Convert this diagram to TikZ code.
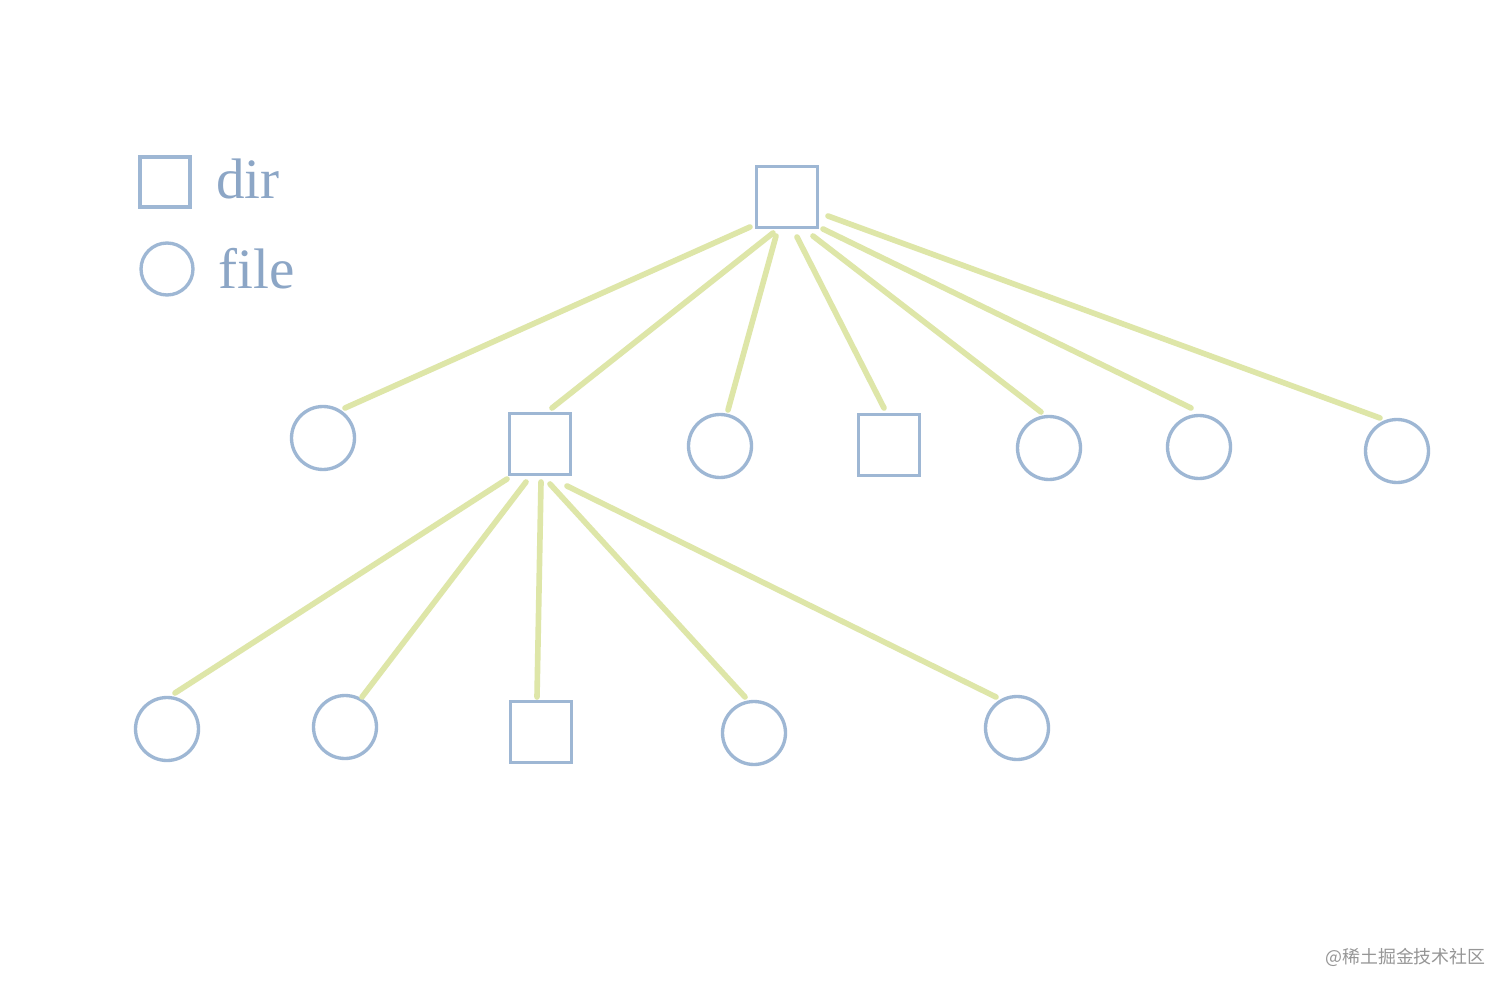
\documentclass[tikz,border=0pt]{standalone}
\usepackage{fontspec}
\setmainfont{Liberation Serif}
\newfontfamily\cjk{Noto Sans CJK SC}
\definecolor{nodeblue}{RGB}{158,183,212}
\definecolor{textblue}{RGB}{140,166,198}
\definecolor{edgegreen}{RGB}{222,230,168}
\definecolor{wmgray}{RGB}{150,150,150}
\begin{document}
\begin{tikzpicture}[x=0.02cm,y=-0.02cm,
  dirbox/.style={draw=nodeblue,line width=1.9pt,minimum size=1.22cm,inner sep=0pt,fill=white},
  filecirc/.style={draw=nodeblue,line width=1.9pt,circle,minimum size=1.26cm,inner sep=0pt,fill=white},
  edge/.style={draw=edgegreen,line width=3.2pt,line cap=round},
  legtext/.style={text=textblue,font=\fontsize{32.5}{33}\selectfont,anchor=base west,inner sep=0pt}]
\useasboundingbox[fill=white] (0,0) rectangle (1512,993);
% legend
\node[dirbox,minimum size=1.0cm] (legdir) at (165,182) {};
\node[legtext] (legdirt) at (216,199) {dir};
\node[filecirc,minimum size=1.04cm] (legfile) at (167,269) {};
\node[legtext] (legfilet) at (218,289) {file};
% tree nodes
\node[dirbox] (root) at (787,197) {};
\node[filecirc] (c1) at (323,438) {};
\node[dirbox] (d1) at (540,444) {};
\node[filecirc] (c2) at (720,446) {};
\node[dirbox] (d2) at (889,445) {};
\node[filecirc] (c3) at (1049,448) {};
\node[filecirc] (c4) at (1199,447) {};
\node[filecirc] (c5) at (1397,451) {};
\node[filecirc] (c6) at (167,729) {};
\node[filecirc] (c7) at (345,727) {};
\node[dirbox] (d3) at (541,732) {};
\node[filecirc] (c8) at (754,733) {};
\node[filecirc] (c9) at (1017,728) {};
% edges
\draw[edge] ([shift={(-37,30)}]root.center) -- ([shift={(22,-30)}]c1.center);
\draw[edge] ([shift={(-14,36)}]root.center) -- ([shift={(12,-36)}]d1.center);
\draw[edge] ([shift={(-11,39)}]root.center) -- ([shift={(8,-36)}]c2.center);
\draw[edge] ([shift={(10,40)}]root.center) -- ([shift={(-5,-37)}]d2.center);
\draw[edge] ([shift={(26,39)}]root.center) -- ([shift={(-8,-36)}]c3.center);
\draw[edge] ([shift={(36,32)}]root.center) -- ([shift={(-8,-39)}]c4.center);
\draw[edge] ([shift={(41,19)}]root.center) -- ([shift={(-17,-33)}]c5.center);
\draw[edge] ([shift={(-33,35)}]d1.center) -- ([shift={(8,-36)}]c6.center);
\draw[edge] ([shift={(-14,38)}]d1.center) -- ([shift={(17,-30)}]c7.center);
\draw[edge] ([shift={(1,38)}]d1.center) -- ([shift={(-4,-35)}]d3.center);
\draw[edge] ([shift={(10,40)}]d1.center) -- ([shift={(-9,-36)}]c8.center);
\draw[edge] ([shift={(27,42)}]d1.center) -- ([shift={(-21,-31)}]c9.center);
% watermark
\node[text=wmgray,font=\cjk\fontsize{10.2}{10.2}\selectfont,anchor=east,inner sep=0pt] (wm) at (1486,957) {@稀土掘金技术社区};
\end{tikzpicture}
\end{document}
